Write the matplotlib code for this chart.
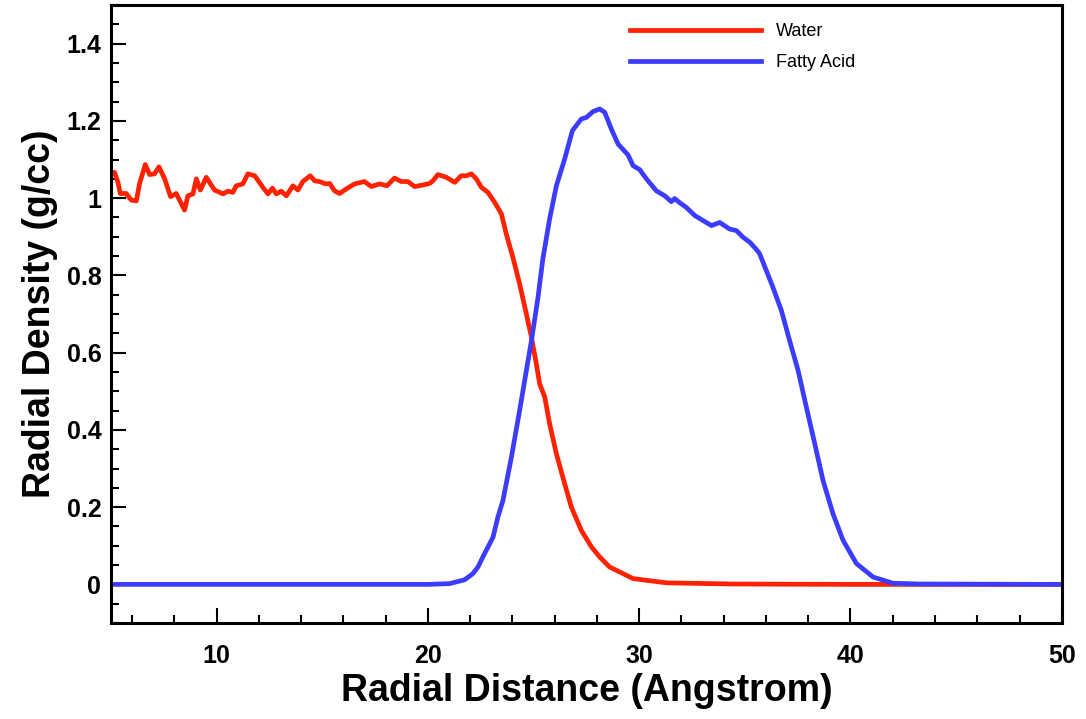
import numpy as np
import matplotlib.pyplot as plt
from matplotlib.ticker import MultipleLocator, FormatStrFormatter

# Water radial density
water_x = [5.0, 5.17, 5.33, 5.44, 5.72, 5.96, 6.20, 6.35, 6.62, 6.83, 7.06, 7.27, 7.54, 7.82,
           8.09, 8.48, 8.64, 8.88, 9.04, 9.23, 9.51, 9.90, 10.30, 10.53, 10.77, 10.93, 11.24,
           11.48, 11.80, 12.19, 12.43, 12.64, 12.82, 13.06, 13.30, 13.61, 13.85, 14.08, 14.43,
           14.64, 14.87, 15.16, 15.35, 15.58, 15.82, 16.14, 16.53, 17.00, 17.32, 17.71, 18.06,
           18.42, 18.74, 19.05, 19.37, 19.76, 20.08, 20.24, 20.47, 20.87, 21.27, 21.58, 21.82,
           22.06, 22.29, 22.53, 22.84, 23.16, 23.48, 23.71, 24.02, 24.34, 24.66, 24.90, 25.13,
           25.29, 25.53, 25.76, 26.08, 26.47, 26.79, 27.26, 27.74, 28.13, 28.60, 29.71, 31.29,
           34.43, 40.0, 50.0]
water_y = [1.06, 1.067, 1.041, 1.012, 1.012, 0.995, 0.993, 1.037, 1.087, 1.061, 1.063, 1.081,
           1.050, 1.004, 1.012, 0.969, 1.006, 1.011, 1.050, 1.021, 1.054, 1.021, 1.011, 1.018,
           1.015, 1.032, 1.037, 1.063, 1.058, 1.028, 1.011, 1.026, 1.011, 1.018, 1.006, 1.032,
           1.021, 1.043, 1.058, 1.045, 1.043, 1.037, 1.038, 1.019, 1.012, 1.024, 1.037, 1.043,
           1.030, 1.037, 1.032, 1.052, 1.043, 1.043, 1.030, 1.034, 1.038, 1.045, 1.061, 1.054,
           1.041, 1.058, 1.058, 1.063, 1.050, 1.028, 1.015, 0.989, 0.959, 0.907, 0.847, 0.778,
           0.700, 0.640, 0.571, 0.519, 0.485, 0.416, 0.338, 0.261, 0.200, 0.140, 0.097, 0.071,
           0.045, 0.015, 0.004, 0.001, 0.0, 0.0]

# Fatty acid radial density
acid_x = [5.0, 20.0, 21.03, 21.74, 22.13, 22.37, 22.60, 22.92, 23.08, 23.31, 23.55, 23.95,
          24.34, 24.66, 24.90, 25.21, 25.44, 25.76, 26.08, 26.47, 26.84, 27.26, 27.50, 27.81,
          28.13, 28.37, 28.68, 29.00, 29.47, 29.71, 30.02, 30.34, 30.81, 31.21, 31.52, 31.68,
          31.92, 32.23, 32.63, 33.02, 33.42, 33.81, 34.28, 34.60, 34.91, 35.23, 35.55, 35.70,
          36.02, 36.33, 36.73, 37.12, 37.52, 37.91, 38.31, 38.70, 39.17, 39.65, 40.28, 41.07,
          42.01, 43.28, 50.0]
acid_y = [0.0, 0.0, 0.002, 0.012, 0.028, 0.045, 0.071, 0.105, 0.122, 0.174, 0.217, 0.329,
          0.450, 0.554, 0.631, 0.743, 0.843, 0.946, 1.032, 1.101, 1.175, 1.205, 1.209, 1.224,
          1.231, 1.222, 1.179, 1.140, 1.112, 1.084, 1.074, 1.050, 1.019, 1.006, 0.991, 0.999,
          0.988, 0.976, 0.955, 0.942, 0.929, 0.937, 0.920, 0.916, 0.899, 0.886, 0.867, 0.856,
          0.812, 0.769, 0.709, 0.631, 0.554, 0.459, 0.364, 0.269, 0.183, 0.114, 0.054, 0.019,
          0.003, 0.001, 0.0]

plt.rcParams['font.family'] = 'Liberation Sans'

fig = plt.figure(figsize=(10.86, 7.19), dpi=100)
ax = fig.add_axes([0.1022, 0.1335, 0.8755, 0.8595])

ax.plot(water_x, water_y, color='#ff2200', lw=3.4, label='Water', solid_joinstyle='round')
ax.plot(acid_x, acid_y, color='#3c3cff', lw=3.4, label='Fatty Acid', solid_joinstyle='round')

ax.set_xlim(5, 50)
ax.set_ylim(-0.1, 1.5)
ax.xaxis.set_major_locator(MultipleLocator(10))
ax.xaxis.set_minor_locator(MultipleLocator(2))
ax.yaxis.set_major_locator(MultipleLocator(0.2))
ax.yaxis.set_minor_locator(MultipleLocator(0.05))
ax.yaxis.set_major_formatter(FormatStrFormatter('%g'))

for s in ax.spines.values():
    s.set_linewidth(2.2)
ax.tick_params(which='both', direction='in', top=False, right=False, width=1.5)
ax.tick_params(which='major', length=11)
ax.tick_params(which='minor', length=5.5)
ax.tick_params(axis='x', which='major', pad=15, labelsize=18)
ax.tick_params(axis='y', which='major', pad=7, labelsize=18)
for lab in ax.get_xticklabels() + ax.get_yticklabels():
    lab.set_fontweight('bold')

ax.set_xlabel('Radial Distance (Angstrom)', fontsize=27, fontweight='bold', labelpad=4)
ax.set_ylabel('Radial Density (g/cc)', fontsize=27, fontweight='bold', labelpad=6)

ax.legend(loc='upper left', bbox_to_anchor=(0.536, 0.985), frameon=False, fontsize=13,
          handlelength=7.3, handletextpad=0.8, labelspacing=0.75, borderpad=0)

fig.savefig('out.png', dpi=100)
